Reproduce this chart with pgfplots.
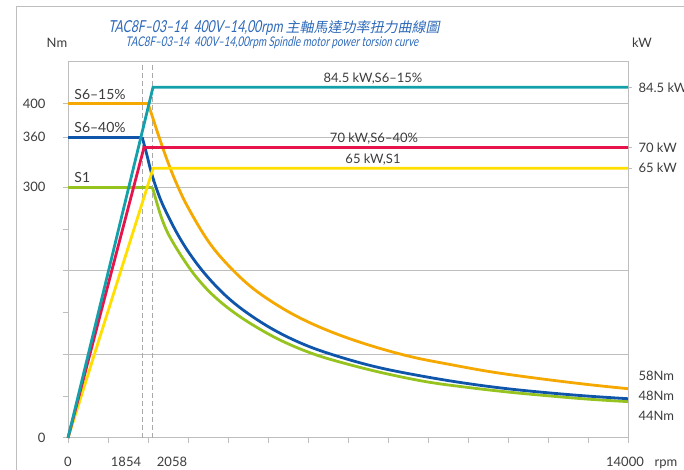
\documentclass[border=0pt]{standalone}
\usepackage{pgfplots}
\pgfplotsset{compat=1.18}
\usepackage{fontspec}
\setmainfont{Lato}
\newfontfamily\titlefont[FakeStretch=0.74,FakeSlant=0.2]{Lato}
\newfontfamily\cjk[FakeSlant=0.2]{Noto Sans CJK TC}
\definecolor{cteal}{RGB}{20,160,170}
\definecolor{corange}{RGB}{245,168,0}
\definecolor{cred}{RGB}{230,20,75}
\definecolor{cblue}{RGB}{15,85,170}
\definecolor{cgreen}{RGB}{150,195,30}
\definecolor{cyellow}{RGB}{255,222,0}
\definecolor{cgrid}{RGB}{190,190,190}
\definecolor{cdash}{RGB}{170,170,170}
\definecolor{ctext}{RGB}{60,60,60}
\definecolor{ctitle}{RGB}{45,105,185}
\begin{document}
\begin{tikzpicture}
\path[use as bounding box] (0,0) rectangle (684pt,470pt);
\draw[cgrid, line width=1pt] (16pt,-5pt) -- (16pt,463pt) -- (700pt,463pt);
\node[ctitle, font=\titlefont\fontsize{16.5}{16.5}\selectfont] at (274pt,442pt)
  {TAC8F–03–14\ \ 400V–14,00rpm {\cjk\fontsize{14}{14}\selectfont 主軸馬達功率扭力曲線圖}};
\node[ctitle, font=\titlefont\fontsize{13.3}{13.3}\selectfont] at (272pt,427pt)
  {TAC8F–03–14\ \ 400V–14,00rpm Spindle motor power torsion curve};
\node[ctext, font=\fontsize{13}{13}\selectfont] at (57pt,427pt) {Nm};
\node[ctext, font=\fontsize{13}{13}\selectfont] at (642pt,427pt) {kW};

\begin{axis}[
  at={(68pt,32pt)}, anchor=south west, scale only axis,
  width=560pt, height=376pt,
  xmin=0, xmax=14000, ymin=0, ymax=450,
  scaled x ticks=false,
  axis line style={cgrid, line width=1pt},
  xtick={0,1000,...,14000}, xticklabels={},
  ytick={0,100,200,300,360,400}, yticklabels={0,,,300,360,400},
  minor ytick={50,150,250},
  xtick pos=bottom, ytick pos=left, tick align=outside,
  major tick length=5pt, minor tick length=5pt,
  every tick/.style={cgrid, line width=1pt},
  ymajorgrids, grid style={cgrid, line width=1pt},
  yticklabel style={font=\fontsize{13}{13}\selectfont, text=ctext, xshift=-14pt},
  /pgf/number format/assume math mode=true,
  clip=false,
]
% dashed markers
\addplot[cdash, line width=1pt, dash pattern=on 5pt off 3pt] coordinates {(1854,0) (1854,450)};
\addplot[cdash, line width=1pt, dash pattern=on 5pt off 3pt] coordinates {(2120,0) (2120,450)};
% S6-15% torque
\addplot[corange, line width=2.8pt] coordinates {(0,400) (2000,400)};
\addplot[corange, line width=2.8pt, smooth, tension=0.6] coordinates {
(2000,400) (2100,386) (2250,364) (2468,334) (2700,306) (3000,276) (3500,236)
(4000,207) (4600,180) (5300,157) (6000,139) (6800,123) (7675,109) (8600,97)
(9550,88) (10600,79) (11800,71) (13000,64) (14000,59)};
% S1 torque
\addplot[cgreen, line width=2.8pt] coordinates {(0,300) (2110,300)};
\addplot[cgreen, line width=2.8pt, smooth, tension=0.6] coordinates {
(2110,300) (2200,285) (2320,266) (2468,248) (2650,232) (2900,213) (3200,193)
(3600,172) (4100,152) (4700,133) (5400,115) (6200,99.5) (7100,87) (8000,76.5)
(9000,67) (10000,60.5) (11000,55) (12000,50.5) (13000,46.5) (14000,43.5)};
% S6-40% torque
\addplot[cblue, line width=2.8pt] coordinates {(0,360) (1854,360)};
\addplot[cblue, line width=2.8pt, smooth, tension=0.6] coordinates {
(1854,360) (1950,343) (2100,315) (2300,287) (2500,266) (2750,243) (3050,220)
(3450,195) (3950,170) (4500,149) (5200,128) (6000,110) (6900,95.5) (7800,84)
(8800,74.5) (9800,66.5) (10800,60) (11800,55) (12900,50.5) (14000,47)};
% labels
\node[ctext, anchor=south west, font=\fontsize{14}{14}\selectfont, inner sep=1pt] at (axis cs:130,404) {S6–15\%};
\node[ctext, anchor=south west, font=\fontsize{14}{14}\selectfont, inner sep=1pt] at (axis cs:130,364) {S6–40\%};
\node[ctext, anchor=south west, font=\fontsize{14}{14}\selectfont, inner sep=1pt] at (axis cs:130,304) {S1};
\node[ctext, anchor=base, font=\fontsize{13}{13}\selectfont] at (axis cs:0,0) [yshift=-29pt] {0};
\node[ctext, anchor=base, font=\fontsize{13}{13}\selectfont] at (axis cs:1450,0) [yshift=-29pt] {1854};
\node[ctext, anchor=base, font=\fontsize{13}{13}\selectfont] at (axis cs:2600,0) [yshift=-29pt] {2058};
\node[ctext, anchor=base, font=\fontsize{13}{13}\selectfont] at (axis cs:13925,0) [yshift=-29pt] {14000};
\node[ctext, anchor=base, font=\fontsize{13}{13}\selectfont] at (axis cs:14950,0) [yshift=-29pt] {rpm};
\node[ctext, anchor=west, font=\fontsize{13}{13}\selectfont] at (axis cs:14000,74) [xshift=7pt] {58Nm};
\node[ctext, anchor=west, font=\fontsize{13}{13}\selectfont] at (axis cs:14000,50) [xshift=7pt] {48Nm};
\node[ctext, anchor=west, font=\fontsize{13}{13}\selectfont] at (axis cs:14000,26) [xshift=7pt] {44Nm};
\end{axis}

\begin{axis}[
  at={(68pt,32pt)}, anchor=south west, scale only axis,
  width=560pt, height=376pt,
  xmin=0, xmax=14000, ymin=0, ymax=90.6,
  axis x line=none, axis y line*=right,
  axis line style={cgrid, line width=1pt},
  ytick={65,70,84.5}, yticklabels={65 kW,70 kW,84.5 kW},
  tick align=outside, major tick length=4pt,
  every tick/.style={cgrid, line width=1pt},
  yticklabel style={font=\fontsize{13}{13}\selectfont, text=ctext, xshift=3pt},
  /pgf/number format/assume math mode=true,
  clip=false,
]
\addplot[cyellow, line width=2.8pt] coordinates {(0,0) (2130,65) (14000,65)};
\addplot[cred, line width=2.8pt] coordinates {(0,0) (1900,70) (14000,70)};
\addplot[cteal, line width=2.8pt] coordinates {(0,0) (2125,84.5) (14000,84.5)};
\node[ctext, anchor=south, font=\fontsize{13}{13}\selectfont, inner sep=2pt] at (axis cs:7625,84.5) [yshift=1pt] {84.5 kW,S6–15\%};
\node[ctext, anchor=south, font=\fontsize{13}{13}\selectfont, inner sep=2pt] at (axis cs:7650,70) [yshift=1pt] {70 kW,S6–40\%};
\node[ctext, anchor=south, font=\fontsize{13}{13}\selectfont, inner sep=2pt] at (axis cs:7625,65) [yshift=1pt] {65 kW,S1};
\end{axis}
\end{tikzpicture}
\end{document}
